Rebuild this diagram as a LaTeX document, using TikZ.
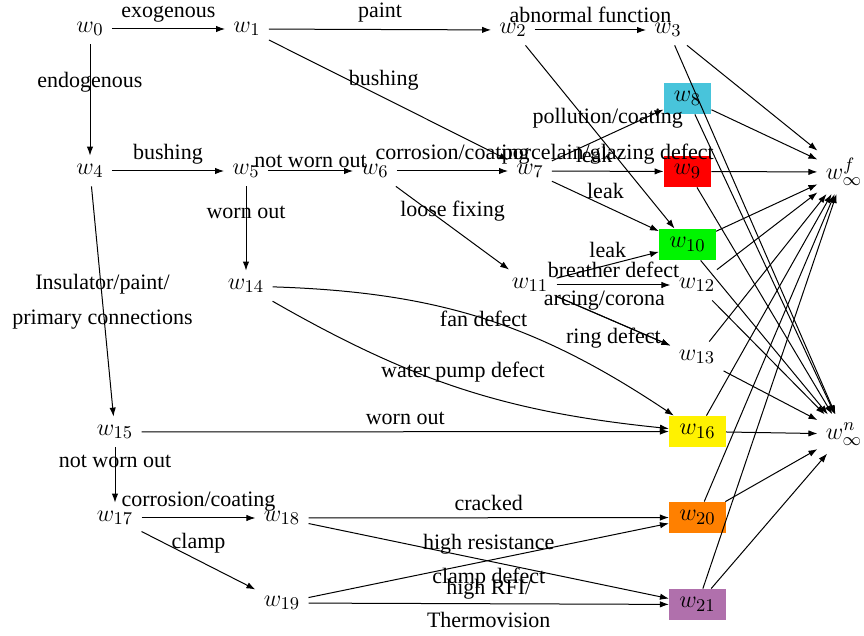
\documentclass[tikz,border=0pt]{standalone}
\usepackage{fontspec}
\setmainfont{Liberation Serif}
\usetikzlibrary{arrows.meta}
\definecolor{c8}{RGB}{72,196,219}
\definecolor{c9}{RGB}{255,0,0}
\definecolor{c10}{RGB}{0,245,0}
\definecolor{c16}{RGB}{255,242,0}
\definecolor{c20}{RGB}{255,128,0}
\definecolor{c21}{RGB}{176,112,172}
\tikzset{
  st/.style={inner sep=4pt, font=\fontsize{12.5}{15}\selectfont},
  cbox/.style={st, fill=#1, minimum height=15.5pt, inner xsep=5pt, inner ysep=2pt},
  lab/.style={font=\fontsize{11}{13}\selectfont},
  e/.style={-{Latex[length=4.5pt,width=3.2pt]}, line width=0.5pt},
}
\begin{document}
\begin{tikzpicture}[x=0.5pt,y=-0.5pt]
\useasboundingbox (0,0) rectangle (864,636);
% nodes
\node[st] (w0) at (90,29) {$w_0$};
\node[st] (w1) at (247,29) {$w_1$};
\node[st] (w2) at (513,30) {$w_2$};
\node[st] (w3) at (668,30) {$w_3$};
\node[cbox=c8] (w8) at (687.5,98.5) {$w_8$};
\node[st] (w4) at (90,171) {$w_4$};
\node[st] (w5) at (246,171) {$w_5$};
\node[st] (w6) at (375,171) {$w_6$};
\node[st] (w7) at (530,171) {$w_7$};
\node[cbox=c9] (w9) at (687.5,171.5) {$w_9$};
\node[st] (wf) at (844,172) {$w^f_\infty$};
\node[cbox=c10] (w10) at (687.5,244.5) {$w_{10}$};
\node[st] (w11) at (530,285) {$w_{11}$};
\node[st] (w12) at (697,285) {$w_{12}$};
\node[st] (w13) at (697,357) {$w_{13}$};
\node[st] (w14) at (246,286) {$w_{14}$};
\node[st] (w15) at (115,432) {$w_{15}$};
\node[cbox=c16] (w16) at (697.5,431.5) {$w_{16}$};
\node[st] (wn) at (844,434) {$w^n_\infty$};
\node[st] (w17) at (115,518) {$w_{17}$};
\node[st] (w18) at (282,518) {$w_{18}$};
\node[cbox=c20] (w20) at (697.5,517.5) {$w_{20}$};
\node[st] (w19) at (282,603) {$w_{19}$};
\node[cbox=c21] (w21) at (697.5,604.5) {$w_{21}$};
% edges
\draw[e] (w0) -- node[lab,above]{exogenous} (w1);
\draw[e] (w1) -- node[lab,above]{paint} (w2);
\draw[e] (w2) -- node[lab,above]{abnormal function} (w3);
\draw[e] (w0) -- node[lab,pos=0.34]{endogenous} (w4);
\draw[e] (w1) -- node[lab,above,pos=0.48]{bushing} (w7);
\draw[e] (w2) -- node[lab,left,pos=0.6,inner sep=1pt]{leak} (w10);
\draw[e] (w4) -- node[lab,above]{bushing} (w5);
\draw[e] (w5) -- node[lab,above,inner sep=1.5pt]{not worn out} (w6);
\draw[e] (w6) -- node[lab,above]{corrosion/coating} (w7);
\draw[e] (w6) -- node[lab,above]{loose fixing} (w11);
\draw[e] (w7) -- node[lab,above]{pollution/coating} (w8);
\draw[e] (w7) -- node[lab,above]{porcelain/glazing defect} (w9);
\draw[e] (w7) -- node[lab,above]{leak} (w10);
\draw[e] (w5) -- node[lab,pos=0.31]{worn out} (w14);
\draw[e] (w4) -- node[lab,align=center]{Insulator/paint/\\[4.5pt]primary connections} (w15);
\draw[e] (w11) -- node[lab,above]{leak} (w10);
\draw[e] (w11) -- node[lab,above]{breather defect} (w12);
\draw[e] (w11) -- node[lab,above,pos=0.42]{arcing/corona} (w13);
\draw[e] (w11) -- node[lab,below]{ring defect} (w13);
\draw[e] (w14) to[bend left=16] node[lab]{fan defect} (w16);
\draw[e] (w14) to[bend right=12] node[lab,above]{water pump defect} (w16);
\draw[e] (w15) -- node[lab,above]{worn out} (w16);
\draw[e] (w15) -- node[lab,pos=0.25]{not worn out} (w17);
\draw[e] (w17) -- node[lab,above]{corrosion/coating} (w18);
\draw[e] (w17) -- node[lab,above]{clamp} (w19);
\draw[e] (w18) -- node[lab,above]{cracked} (w20);
\draw[e] (w18) -- node[lab,above]{high resistance} (w21);
\draw[e] (w19) -- node[lab,below]{clamp defect} (w20);
\draw[e] (w19) -- node[lab,align=center]{high RFI/\\[3.5pt]Thermovision} (w21);
% sinks
\foreach \s in {w3,w8,w9,w10,w12,w13,w16,w20,w21}{
  \draw[e] (\s) -- (wf);
  \draw[e] (\s) -- (wn);
}
\end{tikzpicture}
\end{document}
